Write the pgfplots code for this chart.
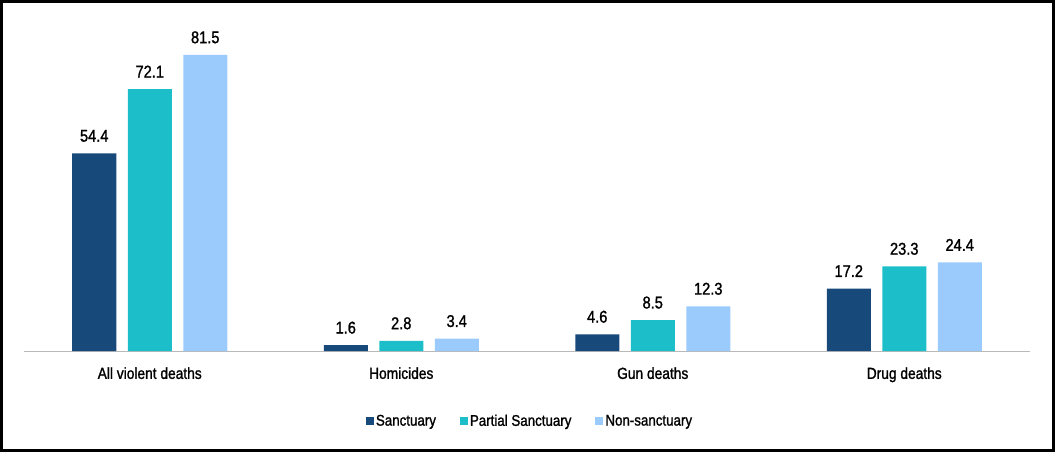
\documentclass[border=0pt]{standalone}
\usepackage{fontspec}
\setmainfont[FakeStretch=0.86, FakeBold=1.3]{Liberation Sans}
\usepackage{pgfplots}
\pgfplotsset{compat=1.18}
\definecolor{sanct}{HTML}{17497A}
\definecolor{partial}{HTML}{1CBFC9}
\definecolor{nonsanct}{HTML}{9BCBFD}
\begin{document}
\begin{tikzpicture}
\begin{axis}[
    scale only axis,
    width=1006bp, height=327bp,
    ybar=11.5bp, bar width=44bp,
    xmin=-0.5, xmax=3.5,
    ymin=0, ymax=90,
    axis y line=none,
    axis x line*=bottom,
    x axis line style={draw=gray!55, line width=0.8bp, -},
    xtick=data,
    xtick style={draw=none},
    xticklabels={All violent deaths, Homicides, Gun deaths, Drug deaths},
    xticklabel style={font=\fontsize{16bp}{19bp}\selectfont, yshift=-8.5bp},
    /pgf/number format/assume math mode=true,
    /pgf/number format/fixed, /pgf/number format/fixed zerofill,
    /pgf/number format/precision=1,
    nodes near coords,
    every node near coord/.append style={font=\fontsize{17bp}{20bp}\selectfont, black, yshift=8bp},
    legend columns=-1,
    legend style={draw=none, at={(axis description cs:0.503,-0.214)}, anchor=center,
        font=\fontsize{15.5bp}{18bp}\selectfont,
        /tikz/every even column/.append style={column sep=22bp}},
    legend image code/.code={\fill[#1] (0bp,-4bp) rectangle (8bp,4bp);},
]
\addplot[fill=sanct, draw=none] coordinates {(0,54.4) (1,1.6) (2,4.6) (3,17.2)};
\addplot[fill=partial, draw=none] coordinates {(0,72.1) (1,2.8) (2,8.5) (3,23.3)};
\addplot[fill=nonsanct, draw=none] coordinates {(0,81.5) (1,3.4) (2,12.3) (3,24.4)};
\legend{Sanctuary, Partial Sanctuary, Non-sanctuary}
\end{axis}
\draw[line width=3.5bp] (-22.25bp,-99.25bp) rectangle (1029.25bp,349.25bp);
\end{tikzpicture}
\end{document}
